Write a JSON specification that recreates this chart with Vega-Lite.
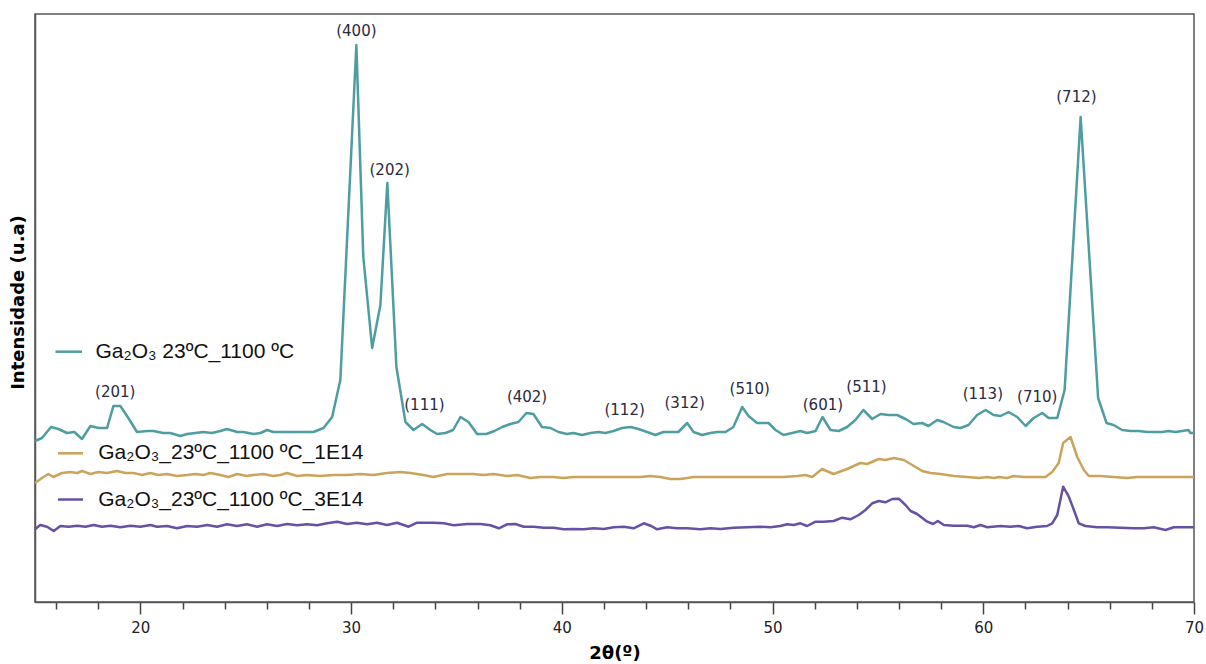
{
  "$schema": "https://vega.github.io/schema/vega-lite/v6.json",
  "width": 1159,
  "height": 588,
  "autosize": {"type": "none"},
  "padding": {"left": 35, "top": 14, "right": 12, "bottom": 62},
  "background": "white",
  "config": {
    "view": {"stroke": "#555", "strokeWidth": 1.5},
    "axis": {"grid": false}
  },
  "datasets": {
    "xrd": [
      {"sample": "Ga₂O₃ 23ºC_1100 ºC", "theta": 15.0, "intensity": 161},
      {"sample": "Ga₂O₃ 23ºC_1100 ºC", "theta": 15.33, "intensity": 164},
      {"sample": "Ga₂O₃ 23ºC_1100 ºC", "theta": 15.76, "intensity": 175},
      {"sample": "Ga₂O₃ 23ºC_1100 ºC", "theta": 16.11, "intensity": 173},
      {"sample": "Ga₂O₃ 23ºC_1100 ºC", "theta": 16.52, "intensity": 169},
      {"sample": "Ga₂O₃ 23ºC_1100 ºC", "theta": 16.87, "intensity": 170},
      {"sample": "Ga₂O₃ 23ºC_1100 ºC", "theta": 17.23, "intensity": 163},
      {"sample": "Ga₂O₃ 23ºC_1100 ºC", "theta": 17.63, "intensity": 176},
      {"sample": "Ga₂O₃ 23ºC_1100 ºC", "theta": 18.01, "intensity": 174},
      {"sample": "Ga₂O₃ 23ºC_1100 ºC", "theta": 18.42, "intensity": 174},
      {"sample": "Ga₂O₃ 23ºC_1100 ºC", "theta": 18.72, "intensity": 196},
      {"sample": "Ga₂O₃ 23ºC_1100 ºC", "theta": 19.05, "intensity": 196},
      {"sample": "Ga₂O₃ 23ºC_1100 ºC", "theta": 19.43, "intensity": 184},
      {"sample": "Ga₂O₃ 23ºC_1100 ºC", "theta": 19.84, "intensity": 170},
      {"sample": "Ga₂O₃ 23ºC_1100 ºC", "theta": 20.32, "intensity": 171},
      {"sample": "Ga₂O₃ 23ºC_1100 ºC", "theta": 20.62, "intensity": 171},
      {"sample": "Ga₂O₃ 23ºC_1100 ºC", "theta": 21.09, "intensity": 169},
      {"sample": "Ga₂O₃ 23ºC_1100 ºC", "theta": 21.42, "intensity": 169},
      {"sample": "Ga₂O₃ 23ºC_1100 ºC", "theta": 21.9, "intensity": 166},
      {"sample": "Ga₂O₃ 23ºC_1100 ºC", "theta": 22.22, "intensity": 168},
      {"sample": "Ga₂O₃ 23ºC_1100 ºC", "theta": 22.61, "intensity": 169},
      {"sample": "Ga₂O₃ 23ºC_1100 ºC", "theta": 22.98, "intensity": 170},
      {"sample": "Ga₂O₃ 23ºC_1100 ºC", "theta": 23.4, "intensity": 169},
      {"sample": "Ga₂O₃ 23ºC_1100 ºC", "theta": 23.8, "intensity": 171},
      {"sample": "Ga₂O₃ 23ºC_1100 ºC", "theta": 24.11, "intensity": 173},
      {"sample": "Ga₂O₃ 23ºC_1100 ºC", "theta": 24.59, "intensity": 170},
      {"sample": "Ga₂O₃ 23ºC_1100 ºC", "theta": 24.89, "intensity": 170},
      {"sample": "Ga₂O₃ 23ºC_1100 ºC", "theta": 25.36, "intensity": 168},
      {"sample": "Ga₂O₃ 23ºC_1100 ºC", "theta": 25.7, "intensity": 169},
      {"sample": "Ga₂O₃ 23ºC_1100 ºC", "theta": 26.01, "intensity": 172},
      {"sample": "Ga₂O₃ 23ºC_1100 ºC", "theta": 26.31, "intensity": 170},
      {"sample": "Ga₂O₃ 23ºC_1100 ºC", "theta": 26.79, "intensity": 170},
      {"sample": "Ga₂O₃ 23ºC_1100 ºC", "theta": 28.21, "intensity": 170},
      {"sample": "Ga₂O₃ 23ºC_1100 ºC", "theta": 28.69, "intensity": 174},
      {"sample": "Ga₂O₃ 23ºC_1100 ºC", "theta": 29.1, "intensity": 185},
      {"sample": "Ga₂O₃ 23ºC_1100 ºC", "theta": 29.49, "intensity": 222},
      {"sample": "Ga₂O₃ 23ºC_1100 ºC", "theta": 30.25, "intensity": 557},
      {"sample": "Ga₂O₃ 23ºC_1100 ºC", "theta": 30.58, "intensity": 345},
      {"sample": "Ga₂O₃ 23ºC_1100 ºC", "theta": 31.0, "intensity": 254},
      {"sample": "Ga₂O₃ 23ºC_1100 ºC", "theta": 31.39, "intensity": 297},
      {"sample": "Ga₂O₃ 23ºC_1100 ºC", "theta": 31.72, "intensity": 419},
      {"sample": "Ga₂O₃ 23ºC_1100 ºC", "theta": 32.15, "intensity": 235},
      {"sample": "Ga₂O₃ 23ºC_1100 ºC", "theta": 32.58, "intensity": 180},
      {"sample": "Ga₂O₃ 23ºC_1100 ºC", "theta": 32.96, "intensity": 172},
      {"sample": "Ga₂O₃ 23ºC_1100 ºC", "theta": 33.37, "intensity": 178},
      {"sample": "Ga₂O₃ 23ºC_1100 ºC", "theta": 33.76, "intensity": 172},
      {"sample": "Ga₂O₃ 23ºC_1100 ºC", "theta": 34.08, "intensity": 168},
      {"sample": "Ga₂O₃ 23ºC_1100 ºC", "theta": 34.48, "intensity": 169},
      {"sample": "Ga₂O₃ 23ºC_1100 ºC", "theta": 34.84, "intensity": 172},
      {"sample": "Ga₂O₃ 23ºC_1100 ºC", "theta": 35.19, "intensity": 185},
      {"sample": "Ga₂O₃ 23ºC_1100 ºC", "theta": 35.57, "intensity": 180},
      {"sample": "Ga₂O₃ 23ºC_1100 ºC", "theta": 35.98, "intensity": 168},
      {"sample": "Ga₂O₃ 23ºC_1100 ºC", "theta": 36.42, "intensity": 168},
      {"sample": "Ga₂O₃ 23ºC_1100 ºC", "theta": 36.8, "intensity": 171},
      {"sample": "Ga₂O₃ 23ºC_1100 ºC", "theta": 37.17, "intensity": 175},
      {"sample": "Ga₂O₃ 23ºC_1100 ºC", "theta": 37.56, "intensity": 178},
      {"sample": "Ga₂O₃ 23ºC_1100 ºC", "theta": 37.94, "intensity": 180},
      {"sample": "Ga₂O₃ 23ºC_1100 ºC", "theta": 38.32, "intensity": 189},
      {"sample": "Ga₂O₃ 23ºC_1100 ºC", "theta": 38.65, "intensity": 188},
      {"sample": "Ga₂O₃ 23ºC_1100 ºC", "theta": 39.06, "intensity": 175},
      {"sample": "Ga₂O₃ 23ºC_1100 ºC", "theta": 39.46, "intensity": 174},
      {"sample": "Ga₂O₃ 23ºC_1100 ºC", "theta": 39.84, "intensity": 170},
      {"sample": "Ga₂O₃ 23ºC_1100 ºC", "theta": 40.25, "intensity": 168},
      {"sample": "Ga₂O₃ 23ºC_1100 ºC", "theta": 40.55, "intensity": 169},
      {"sample": "Ga₂O₃ 23ºC_1100 ºC", "theta": 40.96, "intensity": 167},
      {"sample": "Ga₂O₃ 23ºC_1100 ºC", "theta": 41.36, "intensity": 169},
      {"sample": "Ga₂O₃ 23ºC_1100 ºC", "theta": 41.74, "intensity": 170},
      {"sample": "Ga₂O₃ 23ºC_1100 ºC", "theta": 42.07, "intensity": 169},
      {"sample": "Ga₂O₃ 23ºC_1100 ºC", "theta": 42.45, "intensity": 171},
      {"sample": "Ga₂O₃ 23ºC_1100 ºC", "theta": 42.86, "intensity": 174},
      {"sample": "Ga₂O₃ 23ºC_1100 ºC", "theta": 43.26, "intensity": 175},
      {"sample": "Ga₂O₃ 23ºC_1100 ºC", "theta": 43.64, "intensity": 173},
      {"sample": "Ga₂O₃ 23ºC_1100 ºC", "theta": 44.05, "intensity": 170},
      {"sample": "Ga₂O₃ 23ºC_1100 ºC", "theta": 44.44, "intensity": 167},
      {"sample": "Ga₂O₃ 23ºC_1100 ºC", "theta": 44.82, "intensity": 170},
      {"sample": "Ga₂O₃ 23ºC_1100 ºC", "theta": 45.15, "intensity": 170},
      {"sample": "Ga₂O₃ 23ºC_1100 ºC", "theta": 45.53, "intensity": 170},
      {"sample": "Ga₂O₃ 23ºC_1100 ºC", "theta": 45.95, "intensity": 179},
      {"sample": "Ga₂O₃ 23ºC_1100 ºC", "theta": 46.25, "intensity": 170},
      {"sample": "Ga₂O₃ 23ºC_1100 ºC", "theta": 46.66, "intensity": 167},
      {"sample": "Ga₂O₃ 23ºC_1100 ºC", "theta": 47.05, "intensity": 169},
      {"sample": "Ga₂O₃ 23ºC_1100 ºC", "theta": 47.37, "intensity": 170},
      {"sample": "Ga₂O₃ 23ºC_1100 ºC", "theta": 47.77, "intensity": 170},
      {"sample": "Ga₂O₃ 23ºC_1100 ºC", "theta": 48.14, "intensity": 175},
      {"sample": "Ga₂O₃ 23ºC_1100 ºC", "theta": 48.56, "intensity": 195},
      {"sample": "Ga₂O₃ 23ºC_1100 ºC", "theta": 48.86, "intensity": 186},
      {"sample": "Ga₂O₃ 23ºC_1100 ºC", "theta": 49.27, "intensity": 179},
      {"sample": "Ga₂O₃ 23ºC_1100 ºC", "theta": 49.57, "intensity": 179},
      {"sample": "Ga₂O₃ 23ºC_1100 ºC", "theta": 49.81, "intensity": 179},
      {"sample": "Ga₂O₃ 23ºC_1100 ºC", "theta": 50.14, "intensity": 172},
      {"sample": "Ga₂O₃ 23ºC_1100 ºC", "theta": 50.52, "intensity": 167},
      {"sample": "Ga₂O₃ 23ºC_1100 ºC", "theta": 50.93, "intensity": 169},
      {"sample": "Ga₂O₃ 23ºC_1100 ºC", "theta": 51.32, "intensity": 171},
      {"sample": "Ga₂O₃ 23ºC_1100 ºC", "theta": 51.64, "intensity": 169},
      {"sample": "Ga₂O₃ 23ºC_1100 ºC", "theta": 52.04, "intensity": 171},
      {"sample": "Ga₂O₃ 23ºC_1100 ºC", "theta": 52.37, "intensity": 185},
      {"sample": "Ga₂O₃ 23ºC_1100 ºC", "theta": 52.75, "intensity": 172},
      {"sample": "Ga₂O₃ 23ºC_1100 ºC", "theta": 53.14, "intensity": 171},
      {"sample": "Ga₂O₃ 23ºC_1100 ºC", "theta": 53.54, "intensity": 175},
      {"sample": "Ga₂O₃ 23ºC_1100 ºC", "theta": 53.93, "intensity": 182},
      {"sample": "Ga₂O₃ 23ºC_1100 ºC", "theta": 54.31, "intensity": 192},
      {"sample": "Ga₂O₃ 23ºC_1100 ºC", "theta": 54.73, "intensity": 183},
      {"sample": "Ga₂O₃ 23ºC_1100 ºC", "theta": 55.12, "intensity": 188},
      {"sample": "Ga₂O₃ 23ºC_1100 ºC", "theta": 55.5, "intensity": 187},
      {"sample": "Ga₂O₃ 23ºC_1100 ºC", "theta": 55.91, "intensity": 187},
      {"sample": "Ga₂O₃ 23ºC_1100 ºC", "theta": 56.31, "intensity": 183},
      {"sample": "Ga₂O₃ 23ºC_1100 ºC", "theta": 56.69, "intensity": 178},
      {"sample": "Ga₂O₃ 23ºC_1100 ºC", "theta": 57.1, "intensity": 179},
      {"sample": "Ga₂O₃ 23ºC_1100 ºC", "theta": 57.4, "intensity": 176},
      {"sample": "Ga₂O₃ 23ºC_1100 ºC", "theta": 57.81, "intensity": 182},
      {"sample": "Ga₂O₃ 23ºC_1100 ºC", "theta": 58.11, "intensity": 180},
      {"sample": "Ga₂O₃ 23ºC_1100 ºC", "theta": 58.59, "intensity": 175},
      {"sample": "Ga₂O₃ 23ºC_1100 ºC", "theta": 58.92, "intensity": 174},
      {"sample": "Ga₂O₃ 23ºC_1100 ºC", "theta": 59.3, "intensity": 177},
      {"sample": "Ga₂O₃ 23ºC_1100 ºC", "theta": 59.71, "intensity": 187},
      {"sample": "Ga₂O₃ 23ºC_1100 ºC", "theta": 60.11, "intensity": 192},
      {"sample": "Ga₂O₃ 23ºC_1100 ºC", "theta": 60.49, "intensity": 187},
      {"sample": "Ga₂O₃ 23ºC_1100 ºC", "theta": 60.82, "intensity": 186},
      {"sample": "Ga₂O₃ 23ºC_1100 ºC", "theta": 61.2, "intensity": 190},
      {"sample": "Ga₂O₃ 23ºC_1100 ºC", "theta": 61.61, "intensity": 185},
      {"sample": "Ga₂O₃ 23ºC_1100 ºC", "theta": 62.01, "intensity": 176},
      {"sample": "Ga₂O₃ 23ºC_1100 ºC", "theta": 62.39, "intensity": 184},
      {"sample": "Ga₂O₃ 23ºC_1100 ºC", "theta": 62.8, "intensity": 189},
      {"sample": "Ga₂O₃ 23ºC_1100 ºC", "theta": 63.1, "intensity": 184},
      {"sample": "Ga₂O₃ 23ºC_1100 ºC", "theta": 63.51, "intensity": 184},
      {"sample": "Ga₂O₃ 23ºC_1100 ºC", "theta": 63.86, "intensity": 212},
      {"sample": "Ga₂O₃ 23ºC_1100 ºC", "theta": 64.62, "intensity": 485},
      {"sample": "Ga₂O₃ 23ºC_1100 ºC", "theta": 65.45, "intensity": 204},
      {"sample": "Ga₂O₃ 23ºC_1100 ºC", "theta": 65.85, "intensity": 179},
      {"sample": "Ga₂O₃ 23ºC_1100 ºC", "theta": 66.18, "intensity": 177},
      {"sample": "Ga₂O₃ 23ºC_1100 ºC", "theta": 66.59, "intensity": 172},
      {"sample": "Ga₂O₃ 23ºC_1100 ºC", "theta": 66.99, "intensity": 171},
      {"sample": "Ga₂O₃ 23ºC_1100 ºC", "theta": 67.37, "intensity": 171},
      {"sample": "Ga₂O₃ 23ºC_1100 ºC", "theta": 67.78, "intensity": 170},
      {"sample": "Ga₂O₃ 23ºC_1100 ºC", "theta": 68.08, "intensity": 170},
      {"sample": "Ga₂O₃ 23ºC_1100 ºC", "theta": 68.49, "intensity": 170},
      {"sample": "Ga₂O₃ 23ºC_1100 ºC", "theta": 68.79, "intensity": 171},
      {"sample": "Ga₂O₃ 23ºC_1100 ºC", "theta": 69.12, "intensity": 170},
      {"sample": "Ga₂O₃ 23ºC_1100 ºC", "theta": 69.44, "intensity": 171},
      {"sample": "Ga₂O₃ 23ºC_1100 ºC", "theta": 69.74, "intensity": 172},
      {"sample": "Ga₂O₃ 23ºC_1100 ºC", "theta": 69.83, "intensity": 169},
      {"sample": "Ga₂O₃ 23ºC_1100 ºC", "theta": 70.0, "intensity": 169},

      {"sample": "Ga₂O₃_23ºC_1100 ºC_1E14", "theta": 15.0, "intensity": 119},
      {"sample": "Ga₂O₃_23ºC_1100 ºC_1E14", "theta": 15.33, "intensity": 124},
      {"sample": "Ga₂O₃_23ºC_1100 ºC_1E14", "theta": 15.63, "intensity": 128},
      {"sample": "Ga₂O₃_23ºC_1100 ºC_1E14", "theta": 15.87, "intensity": 125},
      {"sample": "Ga₂O₃_23ºC_1100 ºC_1E14", "theta": 16.28, "intensity": 129},
      {"sample": "Ga₂O₃_23ºC_1100 ºC_1E14", "theta": 16.68, "intensity": 130},
      {"sample": "Ga₂O₃_23ºC_1100 ºC_1E14", "theta": 17.0, "intensity": 129},
      {"sample": "Ga₂O₃_23ºC_1100 ºC_1E14", "theta": 17.23, "intensity": 131},
      {"sample": "Ga₂O₃_23ºC_1100 ºC_1E14", "theta": 17.63, "intensity": 128},
      {"sample": "Ga₂O₃_23ºC_1100 ºC_1E14", "theta": 18.01, "intensity": 130},
      {"sample": "Ga₂O₃_23ºC_1100 ºC_1E14", "theta": 18.42, "intensity": 129},
      {"sample": "Ga₂O₃_23ºC_1100 ºC_1E14", "theta": 18.89, "intensity": 131},
      {"sample": "Ga₂O₃_23ºC_1100 ºC_1E14", "theta": 19.29, "intensity": 129},
      {"sample": "Ga₂O₃_23ºC_1100 ºC_1E14", "theta": 19.67, "intensity": 129},
      {"sample": "Ga₂O₃_23ºC_1100 ºC_1E14", "theta": 20.08, "intensity": 127},
      {"sample": "Ga₂O₃_23ºC_1100 ºC_1E14", "theta": 20.47, "intensity": 129},
      {"sample": "Ga₂O₃_23ºC_1100 ºC_1E14", "theta": 20.85, "intensity": 127},
      {"sample": "Ga₂O₃_23ºC_1100 ºC_1E14", "theta": 21.27, "intensity": 128},
      {"sample": "Ga₂O₃_23ºC_1100 ºC_1E14", "theta": 21.74, "intensity": 126},
      {"sample": "Ga₂O₃_23ºC_1100 ºC_1E14", "theta": 22.22, "intensity": 127},
      {"sample": "Ga₂O₃_23ºC_1100 ºC_1E14", "theta": 22.61, "intensity": 128},
      {"sample": "Ga₂O₃_23ºC_1100 ºC_1E14", "theta": 22.99, "intensity": 127},
      {"sample": "Ga₂O₃_23ºC_1100 ºC_1E14", "theta": 23.32, "intensity": 129},
      {"sample": "Ga₂O₃_23ºC_1100 ºC_1E14", "theta": 23.8, "intensity": 127},
      {"sample": "Ga₂O₃_23ºC_1100 ºC_1E14", "theta": 24.18, "intensity": 125},
      {"sample": "Ga₂O₃_23ºC_1100 ºC_1E14", "theta": 24.59, "intensity": 128},
      {"sample": "Ga₂O₃_23ºC_1100 ºC_1E14", "theta": 25.06, "intensity": 126},
      {"sample": "Ga₂O₃_23ºC_1100 ºC_1E14", "theta": 25.36, "intensity": 127},
      {"sample": "Ga₂O₃_23ºC_1100 ºC_1E14", "theta": 25.84, "intensity": 128},
      {"sample": "Ga₂O₃_23ºC_1100 ºC_1E14", "theta": 26.31, "intensity": 126},
      {"sample": "Ga₂O₃_23ºC_1100 ºC_1E14", "theta": 26.64, "intensity": 127},
      {"sample": "Ga₂O₃_23ºC_1100 ºC_1E14", "theta": 26.96, "intensity": 129},
      {"sample": "Ga₂O₃_23ºC_1100 ºC_1E14", "theta": 27.44, "intensity": 126},
      {"sample": "Ga₂O₃_23ºC_1100 ºC_1E14", "theta": 27.91, "intensity": 127},
      {"sample": "Ga₂O₃_23ºC_1100 ºC_1E14", "theta": 28.54, "intensity": 126},
      {"sample": "Ga₂O₃_23ºC_1100 ºC_1E14", "theta": 29.16, "intensity": 127},
      {"sample": "Ga₂O₃_23ºC_1100 ºC_1E14", "theta": 29.81, "intensity": 127},
      {"sample": "Ga₂O₃_23ºC_1100 ºC_1E14", "theta": 30.44, "intensity": 128},
      {"sample": "Ga₂O₃_23ºC_1100 ºC_1E14", "theta": 31.06, "intensity": 127},
      {"sample": "Ga₂O₃_23ºC_1100 ºC_1E14", "theta": 31.71, "intensity": 129},
      {"sample": "Ga₂O₃_23ºC_1100 ºC_1E14", "theta": 32.34, "intensity": 130},
      {"sample": "Ga₂O₃_23ºC_1100 ºC_1E14", "theta": 32.81, "intensity": 129},
      {"sample": "Ga₂O₃_23ºC_1100 ºC_1E14", "theta": 33.43, "intensity": 127},
      {"sample": "Ga₂O₃_23ºC_1100 ºC_1E14", "theta": 33.91, "intensity": 125},
      {"sample": "Ga₂O₃_23ºC_1100 ºC_1E14", "theta": 34.56, "intensity": 128},
      {"sample": "Ga₂O₃_23ºC_1100 ºC_1E14", "theta": 35.19, "intensity": 128},
      {"sample": "Ga₂O₃_23ºC_1100 ºC_1E14", "theta": 35.8, "intensity": 128},
      {"sample": "Ga₂O₃_23ºC_1100 ºC_1E14", "theta": 36.28, "intensity": 127},
      {"sample": "Ga₂O₃_23ºC_1100 ºC_1E14", "theta": 36.75, "intensity": 128},
      {"sample": "Ga₂O₃_23ºC_1100 ºC_1E14", "theta": 37.4, "intensity": 126},
      {"sample": "Ga₂O₃_23ºC_1100 ºC_1E14", "theta": 37.88, "intensity": 127},
      {"sample": "Ga₂O₃_23ºC_1100 ºC_1E14", "theta": 38.51, "intensity": 124},
      {"sample": "Ga₂O₃_23ºC_1100 ºC_1E14", "theta": 38.98, "intensity": 125},
      {"sample": "Ga₂O₃_23ºC_1100 ºC_1E14", "theta": 39.6, "intensity": 125},
      {"sample": "Ga₂O₃_23ºC_1100 ºC_1E14", "theta": 40.08, "intensity": 124},
      {"sample": "Ga₂O₃_23ºC_1100 ºC_1E14", "theta": 40.55, "intensity": 125},
      {"sample": "Ga₂O₃_23ºC_1100 ºC_1E14", "theta": 41.2, "intensity": 125},
      {"sample": "Ga₂O₃_23ºC_1100 ºC_1E14", "theta": 41.83, "intensity": 125},
      {"sample": "Ga₂O₃_23ºC_1100 ºC_1E14", "theta": 42.31, "intensity": 125},
      {"sample": "Ga₂O₃_23ºC_1100 ºC_1E14", "theta": 42.92, "intensity": 125},
      {"sample": "Ga₂O₃_23ºC_1100 ºC_1E14", "theta": 43.4, "intensity": 125},
      {"sample": "Ga₂O₃_23ºC_1100 ºC_1E14", "theta": 43.73, "intensity": 125},
      {"sample": "Ga₂O₃_23ºC_1100 ºC_1E14", "theta": 44.2, "intensity": 126},
      {"sample": "Ga₂O₃_23ºC_1100 ºC_1E14", "theta": 44.68, "intensity": 125},
      {"sample": "Ga₂O₃_23ºC_1100 ºC_1E14", "theta": 45.15, "intensity": 123},
      {"sample": "Ga₂O₃_23ºC_1100 ºC_1E14", "theta": 45.63, "intensity": 123},
      {"sample": "Ga₂O₃_23ºC_1100 ºC_1E14", "theta": 46.25, "intensity": 125},
      {"sample": "Ga₂O₃_23ºC_1100 ºC_1E14", "theta": 46.72, "intensity": 125},
      {"sample": "Ga₂O₃_23ºC_1100 ºC_1E14", "theta": 47.2, "intensity": 125},
      {"sample": "Ga₂O₃_23ºC_1100 ºC_1E14", "theta": 47.67, "intensity": 125},
      {"sample": "Ga₂O₃_23ºC_1100 ºC_1E14", "theta": 48.15, "intensity": 125},
      {"sample": "Ga₂O₃_23ºC_1100 ºC_1E14", "theta": 48.79, "intensity": 125},
      {"sample": "Ga₂O₃_23ºC_1100 ºC_1E14", "theta": 49.42, "intensity": 125},
      {"sample": "Ga₂O₃_23ºC_1100 ºC_1E14", "theta": 49.9, "intensity": 125},
      {"sample": "Ga₂O₃_23ºC_1100 ºC_1E14", "theta": 50.52, "intensity": 125},
      {"sample": "Ga₂O₃_23ºC_1100 ºC_1E14", "theta": 51.17, "intensity": 126},
      {"sample": "Ga₂O₃_23ºC_1100 ºC_1E14", "theta": 51.56, "intensity": 127},
      {"sample": "Ga₂O₃_23ºC_1100 ºC_1E14", "theta": 51.88, "intensity": 125},
      {"sample": "Ga₂O₃_23ºC_1100 ºC_1E14", "theta": 52.35, "intensity": 133},
      {"sample": "Ga₂O₃_23ºC_1100 ºC_1E14", "theta": 52.89, "intensity": 128},
      {"sample": "Ga₂O₃_23ºC_1100 ºC_1E14", "theta": 53.54, "intensity": 133},
      {"sample": "Ga₂O₃_23ºC_1100 ºC_1E14", "theta": 54.17, "intensity": 139},
      {"sample": "Ga₂O₃_23ºC_1100 ºC_1E14", "theta": 54.49, "intensity": 138},
      {"sample": "Ga₂O₃_23ºC_1100 ºC_1E14", "theta": 55.04, "intensity": 143},
      {"sample": "Ga₂O₃_23ºC_1100 ºC_1E14", "theta": 55.36, "intensity": 142},
      {"sample": "Ga₂O₃_23ºC_1100 ºC_1E14", "theta": 55.75, "intensity": 144},
      {"sample": "Ga₂O₃_23ºC_1100 ºC_1E14", "theta": 56.23, "intensity": 142},
      {"sample": "Ga₂O₃_23ºC_1100 ºC_1E14", "theta": 56.63, "intensity": 137},
      {"sample": "Ga₂O₃_23ºC_1100 ºC_1E14", "theta": 57.1, "intensity": 131},
      {"sample": "Ga₂O₃_23ºC_1100 ºC_1E14", "theta": 57.5, "intensity": 129},
      {"sample": "Ga₂O₃_23ºC_1100 ºC_1E14", "theta": 57.97, "intensity": 128},
      {"sample": "Ga₂O₃_23ºC_1100 ºC_1E14", "theta": 58.6, "intensity": 126},
      {"sample": "Ga₂O₃_23ºC_1100 ºC_1E14", "theta": 59.24, "intensity": 125},
      {"sample": "Ga₂O₃_23ºC_1100 ºC_1E14", "theta": 59.79, "intensity": 124},
      {"sample": "Ga₂O₃_23ºC_1100 ºC_1E14", "theta": 60.18, "intensity": 125},
      {"sample": "Ga₂O₃_23ºC_1100 ºC_1E14", "theta": 60.5, "intensity": 124},
      {"sample": "Ga₂O₃_23ºC_1100 ºC_1E14", "theta": 60.74, "intensity": 125},
      {"sample": "Ga₂O₃_23ºC_1100 ºC_1E14", "theta": 61.13, "intensity": 124},
      {"sample": "Ga₂O₃_23ºC_1100 ºC_1E14", "theta": 61.45, "intensity": 126},
      {"sample": "Ga₂O₃_23ºC_1100 ºC_1E14", "theta": 61.92, "intensity": 125},
      {"sample": "Ga₂O₃_23ºC_1100 ºC_1E14", "theta": 62.56, "intensity": 125},
      {"sample": "Ga₂O₃_23ºC_1100 ºC_1E14", "theta": 62.95, "intensity": 125},
      {"sample": "Ga₂O₃_23ºC_1100 ºC_1E14", "theta": 63.27, "intensity": 130},
      {"sample": "Ga₂O₃_23ºC_1100 ºC_1E14", "theta": 63.58, "intensity": 139},
      {"sample": "Ga₂O₃_23ºC_1100 ºC_1E14", "theta": 63.79, "intensity": 159},
      {"sample": "Ga₂O₃_23ºC_1100 ºC_1E14", "theta": 64.14, "intensity": 165},
      {"sample": "Ga₂O₃_23ºC_1100 ºC_1E14", "theta": 64.46, "intensity": 145},
      {"sample": "Ga₂O₃_23ºC_1100 ºC_1E14", "theta": 64.77, "intensity": 132},
      {"sample": "Ga₂O₃_23ºC_1100 ºC_1E14", "theta": 65.01, "intensity": 126},
      {"sample": "Ga₂O₃_23ºC_1100 ºC_1E14", "theta": 65.56, "intensity": 126},
      {"sample": "Ga₂O₃_23ºC_1100 ºC_1E14", "theta": 66.18, "intensity": 125},
      {"sample": "Ga₂O₃_23ºC_1100 ºC_1E14", "theta": 66.83, "intensity": 124},
      {"sample": "Ga₂O₃_23ºC_1100 ºC_1E14", "theta": 67.3, "intensity": 125},
      {"sample": "Ga₂O₃_23ºC_1100 ºC_1E14", "theta": 67.94, "intensity": 125},
      {"sample": "Ga₂O₃_23ºC_1100 ºC_1E14", "theta": 68.57, "intensity": 125},
      {"sample": "Ga₂O₃_23ºC_1100 ºC_1E14", "theta": 69.36, "intensity": 125},
      {"sample": "Ga₂O₃_23ºC_1100 ºC_1E14", "theta": 70.0, "intensity": 125},

      {"sample": "Ga₂O₃_23ºC_1100 ºC_3E14", "theta": 15.0, "intensity": 72.7},
      {"sample": "Ga₂O₃_23ºC_1100 ºC_3E14", "theta": 15.25, "intensity": 77},
      {"sample": "Ga₂O₃_23ºC_1100 ºC_3E14", "theta": 15.57, "intensity": 75.3},
      {"sample": "Ga₂O₃_23ºC_1100 ºC_3E14", "theta": 15.89, "intensity": 71},
      {"sample": "Ga₂O₃_23ºC_1100 ºC_3E14", "theta": 16.2, "intensity": 76},
      {"sample": "Ga₂O₃_23ºC_1100 ºC_3E14", "theta": 16.6, "intensity": 75.3},
      {"sample": "Ga₂O₃_23ºC_1100 ºC_3E14", "theta": 17.0, "intensity": 76.3},
      {"sample": "Ga₂O₃_23ºC_1100 ºC_3E14", "theta": 17.39, "intensity": 75.3},
      {"sample": "Ga₂O₃_23ºC_1100 ºC_3E14", "theta": 17.78, "intensity": 77},
      {"sample": "Ga₂O₃_23ºC_1100 ºC_3E14", "theta": 18.18, "intensity": 75.3},
      {"sample": "Ga₂O₃_23ºC_1100 ºC_3E14", "theta": 18.58, "intensity": 76.3},
      {"sample": "Ga₂O₃_23ºC_1100 ºC_3E14", "theta": 19.05, "intensity": 74.7},
      {"sample": "Ga₂O₃_23ºC_1100 ºC_3E14", "theta": 19.53, "intensity": 76.3},
      {"sample": "Ga₂O₃_23ºC_1100 ºC_3E14", "theta": 20.0, "intensity": 75.3},
      {"sample": "Ga₂O₃_23ºC_1100 ºC_3E14", "theta": 20.48, "intensity": 77},
      {"sample": "Ga₂O₃_23ºC_1100 ºC_3E14", "theta": 20.79, "intensity": 75.3},
      {"sample": "Ga₂O₃_23ºC_1100 ºC_3E14", "theta": 21.27, "intensity": 76},
      {"sample": "Ga₂O₃_23ºC_1100 ºC_3E14", "theta": 21.74, "intensity": 73.7},
      {"sample": "Ga₂O₃_23ºC_1100 ºC_3E14", "theta": 22.22, "intensity": 76},
      {"sample": "Ga₂O₃_23ºC_1100 ºC_3E14", "theta": 22.69, "intensity": 75.3},
      {"sample": "Ga₂O₃_23ºC_1100 ºC_3E14", "theta": 23.17, "intensity": 77},
      {"sample": "Ga₂O₃_23ºC_1100 ºC_3E14", "theta": 23.64, "intensity": 75.3},
      {"sample": "Ga₂O₃_23ºC_1100 ºC_3E14", "theta": 24.11, "intensity": 77.7},
      {"sample": "Ga₂O₃_23ºC_1100 ºC_3E14", "theta": 24.59, "intensity": 76},
      {"sample": "Ga₂O₃_23ºC_1100 ºC_3E14", "theta": 25.06, "intensity": 77.7},
      {"sample": "Ga₂O₃_23ºC_1100 ºC_3E14", "theta": 25.54, "intensity": 75.3},
      {"sample": "Ga₂O₃_23ºC_1100 ºC_3E14", "theta": 26.01, "intensity": 77.7},
      {"sample": "Ga₂O₃_23ºC_1100 ºC_3E14", "theta": 26.49, "intensity": 76},
      {"sample": "Ga₂O₃_23ºC_1100 ºC_3E14", "theta": 26.96, "intensity": 78},
      {"sample": "Ga₂O₃_23ºC_1100 ºC_3E14", "theta": 27.44, "intensity": 76.7},
      {"sample": "Ga₂O₃_23ºC_1100 ºC_3E14", "theta": 27.91, "intensity": 77.7},
      {"sample": "Ga₂O₃_23ºC_1100 ºC_3E14", "theta": 28.39, "intensity": 76.7},
      {"sample": "Ga₂O₃_23ºC_1100 ºC_3E14", "theta": 28.86, "intensity": 78.7},
      {"sample": "Ga₂O₃_23ºC_1100 ºC_3E14", "theta": 29.34, "intensity": 80.3},
      {"sample": "Ga₂O₃_23ºC_1100 ºC_3E14", "theta": 29.81, "intensity": 78},
      {"sample": "Ga₂O₃_23ºC_1100 ºC_3E14", "theta": 30.28, "intensity": 79.3},
      {"sample": "Ga₂O₃_23ºC_1100 ºC_3E14", "theta": 30.76, "intensity": 77.7},
      {"sample": "Ga₂O₃_23ºC_1100 ºC_3E14", "theta": 31.23, "intensity": 79.3},
      {"sample": "Ga₂O₃_23ºC_1100 ºC_3E14", "theta": 31.71, "intensity": 77},
      {"sample": "Ga₂O₃_23ºC_1100 ºC_3E14", "theta": 32.18, "intensity": 79.3},
      {"sample": "Ga₂O₃_23ºC_1100 ºC_3E14", "theta": 32.73, "intensity": 75.3},
      {"sample": "Ga₂O₃_23ºC_1100 ºC_3E14", "theta": 33.13, "intensity": 79.3},
      {"sample": "Ga₂O₃_23ºC_1100 ºC_3E14", "theta": 33.92, "intensity": 79.3},
      {"sample": "Ga₂O₃_23ºC_1100 ºC_3E14", "theta": 34.4, "intensity": 78.7},
      {"sample": "Ga₂O₃_23ºC_1100 ºC_3E14", "theta": 34.87, "intensity": 76.7},
      {"sample": "Ga₂O₃_23ºC_1100 ºC_3E14", "theta": 35.51, "intensity": 78},
      {"sample": "Ga₂O₃_23ºC_1100 ºC_3E14", "theta": 36.14, "intensity": 78},
      {"sample": "Ga₂O₃_23ºC_1100 ºC_3E14", "theta": 36.61, "intensity": 76.7},
      {"sample": "Ga₂O₃_23ºC_1100 ºC_3E14", "theta": 37.01, "intensity": 73.7},
      {"sample": "Ga₂O₃_23ºC_1100 ºC_3E14", "theta": 37.4, "intensity": 77.7},
      {"sample": "Ga₂O₃_23ºC_1100 ºC_3E14", "theta": 37.8, "intensity": 78},
      {"sample": "Ga₂O₃_23ºC_1100 ºC_3E14", "theta": 38.19, "intensity": 75.3},
      {"sample": "Ga₂O₃_23ºC_1100 ºC_3E14", "theta": 38.67, "intensity": 75.3},
      {"sample": "Ga₂O₃_23ºC_1100 ºC_3E14", "theta": 39.14, "intensity": 74.3},
      {"sample": "Ga₂O₃_23ºC_1100 ºC_3E14", "theta": 39.62, "intensity": 74.3},
      {"sample": "Ga₂O₃_23ºC_1100 ºC_3E14", "theta": 40.09, "intensity": 72.7},
      {"sample": "Ga₂O₃_23ºC_1100 ºC_3E14", "theta": 40.56, "intensity": 73},
      {"sample": "Ga₂O₃_23ºC_1100 ºC_3E14", "theta": 41.04, "intensity": 72.7},
      {"sample": "Ga₂O₃_23ºC_1100 ºC_3E14", "theta": 41.51, "intensity": 73.7},
      {"sample": "Ga₂O₃_23ºC_1100 ºC_3E14", "theta": 41.99, "intensity": 73},
      {"sample": "Ga₂O₃_23ºC_1100 ºC_3E14", "theta": 42.46, "intensity": 74.7},
      {"sample": "Ga₂O₃_23ºC_1100 ºC_3E14", "theta": 42.94, "intensity": 75.3},
      {"sample": "Ga₂O₃_23ºC_1100 ºC_3E14", "theta": 43.41, "intensity": 73.7},
      {"sample": "Ga₂O₃_23ºC_1100 ºC_3E14", "theta": 43.89, "intensity": 78.7},
      {"sample": "Ga₂O₃_23ºC_1100 ºC_3E14", "theta": 44.21, "intensity": 76.3},
      {"sample": "Ga₂O₃_23ºC_1100 ºC_3E14", "theta": 44.52, "intensity": 72.7},
      {"sample": "Ga₂O₃_23ºC_1100 ºC_3E14", "theta": 45.0, "intensity": 74.7},
      {"sample": "Ga₂O₃_23ºC_1100 ºC_3E14", "theta": 45.47, "intensity": 73.7},
      {"sample": "Ga₂O₃_23ºC_1100 ºC_3E14", "theta": 45.95, "intensity": 73.7},
      {"sample": "Ga₂O₃_23ºC_1100 ºC_3E14", "theta": 46.58, "intensity": 72.7},
      {"sample": "Ga₂O₃_23ºC_1100 ºC_3E14", "theta": 47.05, "intensity": 73.7},
      {"sample": "Ga₂O₃_23ºC_1100 ºC_3E14", "theta": 47.53, "intensity": 73},
      {"sample": "Ga₂O₃_23ºC_1100 ºC_3E14", "theta": 48.16, "intensity": 74.3},
      {"sample": "Ga₂O₃_23ºC_1100 ºC_3E14", "theta": 48.79, "intensity": 74.7},
      {"sample": "Ga₂O₃_23ºC_1100 ºC_3E14", "theta": 49.42, "intensity": 75.3},
      {"sample": "Ga₂O₃_23ºC_1100 ºC_3E14", "theta": 49.9, "intensity": 74.7},
      {"sample": "Ga₂O₃_23ºC_1100 ºC_3E14", "theta": 50.37, "intensity": 76},
      {"sample": "Ga₂O₃_23ºC_1100 ºC_3E14", "theta": 50.69, "intensity": 77.7},
      {"sample": "Ga₂O₃_23ºC_1100 ºC_3E14", "theta": 51.01, "intensity": 77},
      {"sample": "Ga₂O₃_23ºC_1100 ºC_3E14", "theta": 51.32, "intensity": 78.7},
      {"sample": "Ga₂O₃_23ºC_1100 ºC_3E14", "theta": 51.64, "intensity": 76},
      {"sample": "Ga₂O₃_23ºC_1100 ºC_3E14", "theta": 52.04, "intensity": 80.3},
      {"sample": "Ga₂O₃_23ºC_1100 ºC_3E14", "theta": 52.43, "intensity": 80.3},
      {"sample": "Ga₂O₃_23ºC_1100 ºC_3E14", "theta": 52.9, "intensity": 81},
      {"sample": "Ga₂O₃_23ºC_1100 ºC_3E14", "theta": 53.3, "intensity": 84.3},
      {"sample": "Ga₂O₃_23ºC_1100 ºC_3E14", "theta": 53.69, "intensity": 82.7},
      {"sample": "Ga₂O₃_23ºC_1100 ºC_3E14", "theta": 54.09, "intensity": 87},
      {"sample": "Ga₂O₃_23ºC_1100 ºC_3E14", "theta": 54.41, "intensity": 92},
      {"sample": "Ga₂O₃_23ºC_1100 ºC_3E14", "theta": 54.73, "intensity": 98.7},
      {"sample": "Ga₂O₃_23ºC_1100 ºC_3E14", "theta": 55.04, "intensity": 101},
      {"sample": "Ga₂O₃_23ºC_1100 ºC_3E14", "theta": 55.36, "intensity": 99.7},
      {"sample": "Ga₂O₃_23ºC_1100 ºC_3E14", "theta": 55.68, "intensity": 103},
      {"sample": "Ga₂O₃_23ºC_1100 ºC_3E14", "theta": 55.99, "intensity": 103.3},
      {"sample": "Ga₂O₃_23ºC_1100 ºC_3E14", "theta": 56.31, "intensity": 97},
      {"sample": "Ga₂O₃_23ºC_1100 ºC_3E14", "theta": 56.55, "intensity": 91},
      {"sample": "Ga₂O₃_23ºC_1100 ºC_3E14", "theta": 56.86, "intensity": 88},
      {"sample": "Ga₂O₃_23ºC_1100 ºC_3E14", "theta": 57.34, "intensity": 80.3},
      {"sample": "Ga₂O₃_23ºC_1100 ºC_3E14", "theta": 57.62, "intensity": 78},
      {"sample": "Ga₂O₃_23ºC_1100 ºC_3E14", "theta": 57.84, "intensity": 81},
      {"sample": "Ga₂O₃_23ºC_1100 ºC_3E14", "theta": 58.13, "intensity": 77},
      {"sample": "Ga₂O₃_23ºC_1100 ºC_3E14", "theta": 58.6, "intensity": 76.3},
      {"sample": "Ga₂O₃_23ºC_1100 ºC_3E14", "theta": 59.24, "intensity": 76.3},
      {"sample": "Ga₂O₃_23ºC_1100 ºC_3E14", "theta": 59.55, "intensity": 74.7},
      {"sample": "Ga₂O₃_23ºC_1100 ºC_3E14", "theta": 59.87, "intensity": 77},
      {"sample": "Ga₂O₃_23ºC_1100 ºC_3E14", "theta": 60.19, "intensity": 74.7},
      {"sample": "Ga₂O₃_23ºC_1100 ºC_3E14", "theta": 60.82, "intensity": 76},
      {"sample": "Ga₂O₃_23ºC_1100 ºC_3E14", "theta": 61.29, "intensity": 75.3},
      {"sample": "Ga₂O₃_23ºC_1100 ºC_3E14", "theta": 61.69, "intensity": 76},
      {"sample": "Ga₂O₃_23ºC_1100 ºC_3E14", "theta": 62.08, "intensity": 73.7},
      {"sample": "Ga₂O₃_23ºC_1100 ºC_3E14", "theta": 62.56, "intensity": 75.3},
      {"sample": "Ga₂O₃_23ºC_1100 ºC_3E14", "theta": 63.03, "intensity": 76},
      {"sample": "Ga₂O₃_23ºC_1100 ºC_3E14", "theta": 63.27, "intensity": 78.7},
      {"sample": "Ga₂O₃_23ºC_1100 ºC_3E14", "theta": 63.51, "intensity": 87},
      {"sample": "Ga₂O₃_23ºC_1100 ºC_3E14", "theta": 63.79, "intensity": 115.3},
      {"sample": "Ga₂O₃_23ºC_1100 ºC_3E14", "theta": 64.06, "intensity": 105.3},
      {"sample": "Ga₂O₃_23ºC_1100 ºC_3E14", "theta": 64.3, "intensity": 92},
      {"sample": "Ga₂O₃_23ºC_1100 ºC_3E14", "theta": 64.53, "intensity": 78.7},
      {"sample": "Ga₂O₃_23ºC_1100 ºC_3E14", "theta": 64.85, "intensity": 76},
      {"sample": "Ga₂O₃_23ºC_1100 ºC_3E14", "theta": 65.41, "intensity": 74.7},
      {"sample": "Ga₂O₃_23ºC_1100 ºC_3E14", "theta": 65.88, "intensity": 74.7},
      {"sample": "Ga₂O₃_23ºC_1100 ºC_3E14", "theta": 66.51, "intensity": 74.3},
      {"sample": "Ga₂O₃_23ºC_1100 ºC_3E14", "theta": 67.14, "intensity": 73.7},
      {"sample": "Ga₂O₃_23ºC_1100 ºC_3E14", "theta": 67.62, "intensity": 73.7},
      {"sample": "Ga₂O₃_23ºC_1100 ºC_3E14", "theta": 68.09, "intensity": 74.7},
      {"sample": "Ga₂O₃_23ºC_1100 ºC_3E14", "theta": 68.65, "intensity": 72},
      {"sample": "Ga₂O₃_23ºC_1100 ºC_3E14", "theta": 69.04, "intensity": 74.7},
      {"sample": "Ga₂O₃_23ºC_1100 ºC_3E14", "theta": 69.68, "intensity": 74.7},
      {"sample": "Ga₂O₃_23ºC_1100 ºC_3E14", "theta": 70.0, "intensity": 74.7}
    ],
    "legendLines": [
      {"sample": "Ga₂O₃ 23ºC_1100 ºC", "theta": 15.97, "theta2": 17.23, "intensity": 250.3},
      {"sample": "Ga₂O₃_23ºC_1100 ºC_1E14", "theta": 16.09, "theta2": 17.28, "intensity": 148.7},
      {"sample": "Ga₂O₃_23ºC_1100 ºC_3E14", "theta": 16.09, "theta2": 17.28, "intensity": 102.5}
    ],
    "legendLabels": [
      {"sample": "Ga₂O₃ 23ºC_1100 ºC", "theta": 17.87, "intensity": 250.3},
      {"sample": "Ga₂O₃_23ºC_1100 ºC_1E14", "theta": 18.0, "intensity": 148.7},
      {"sample": "Ga₂O₃_23ºC_1100 ºC_3E14", "theta": 18.0, "intensity": 102.5}
    ],
    "peaks": [
      {"label": "(201)", "theta": 18.81, "intensity": 210.3},
      {"label": "(400)", "theta": 30.25, "intensity": 571.3},
      {"label": "(202)", "theta": 31.83, "intensity": 432},
      {"label": "(111)", "theta": 33.48, "intensity": 197},
      {"label": "(402)", "theta": 38.35, "intensity": 205.3},
      {"label": "(112)", "theta": 42.98, "intensity": 192},
      {"label": "(312)", "theta": 45.83, "intensity": 198.7},
      {"label": "(510)", "theta": 48.92, "intensity": 212.7},
      {"label": "(601)", "theta": 52.39, "intensity": 197.5},
      {"label": "(511)", "theta": 54.46, "intensity": 215.3},
      {"label": "(113)", "theta": 59.98, "intensity": 208},
      {"label": "(710)", "theta": 62.56, "intensity": 205.3},
      {"label": "(712)", "theta": 64.42, "intensity": 505.3}
    ]
  },
  "encoding": {
    "x": {
      "field": "theta",
      "type": "quantitative",
      "scale": {"domain": [15, 70], "nice": false, "zero": false},
      "axis": {
        "title": "2θ(º)",
        "titleFont": "DejaVu Sans",
        "titleFontSize": 18,
        "titleFontWeight": "bold",
        "titleColor": "#000",
        "titlePadding": 9,
        "values": [16, 18, 20, 22, 24, 26, 28, 30, 32, 34, 36, 38, 40, 42, 44, 46, 48, 50, 52, 54, 56, 58, 60, 62, 64, 66, 68, 70],
        "labelExpr": "datum.value % 10 === 0 ? datum.label : ''",
        "labelFont": "DejaVu Sans",
        "labelFontSize": 15,
        "labelColor": "#222",
        "labelPadding": 6,
        "labelFlush": false,
        "labelOverlap": false,
        "tickColor": "#444",
        "tickWidth": 1.5,
        "tickSize": {"condition": {"test": "datum.value % 10 === 0", "value": 12}, "value": 7},
        "domainColor": "#555",
        "domainWidth": 1.5,
        "grid": false
      }
    },
    "y": {
      "field": "intensity",
      "type": "quantitative",
      "scale": {"domain": [0, 588], "nice": false, "zero": false},
      "axis": {
        "title": "Intensidade (u.a)",
        "titleFont": "DejaVu Sans",
        "titleFontSize": 18,
        "titleFontWeight": "bold",
        "titleColor": "#000",
        "titlePadding": 8,
        "titleY": 288,
        "labels": false,
        "ticks": false,
        "domainColor": "#555",
        "domainWidth": 1.5,
        "grid": false
      }
    }
  },
  "layer": [
    {
      "data": {"name": "xrd"},
      "mark": {"type": "line", "strokeWidth": 2.5, "strokeJoin": "round"},
      "encoding": {
        "color": {
          "field": "sample",
          "type": "nominal",
          "scale": {
            "domain": ["Ga₂O₃ 23ºC_1100 ºC", "Ga₂O₃_23ºC_1100 ºC_1E14", "Ga₂O₃_23ºC_1100 ºC_3E14"],
            "range": ["#4E9DA0", "#C9A45A", "#6651A4"]
          },
          "legend": null
        }
      }
    },
    {
      "data": {"name": "legendLines"},
      "mark": {"type": "rule", "strokeWidth": 2.5},
      "encoding": {
        "x2": {"field": "theta2"},
        "color": {"field": "sample", "type": "nominal", "legend": null}
      }
    },
    {
      "data": {"name": "legendLabels"},
      "mark": {"type": "text", "align": "left", "baseline": "middle", "font": "Liberation Sans", "fontSize": 21, "color": "#111"},
      "encoding": {
        "text": {"field": "sample"}
      }
    },
    {
      "data": {"name": "peaks"},
      "mark": {"type": "text", "align": "center", "baseline": "middle", "font": "DejaVu Sans", "fontSize": 15, "color": "#2a2a40"},
      "encoding": {
        "text": {"field": "label"}
      }
    }
  ]
}
